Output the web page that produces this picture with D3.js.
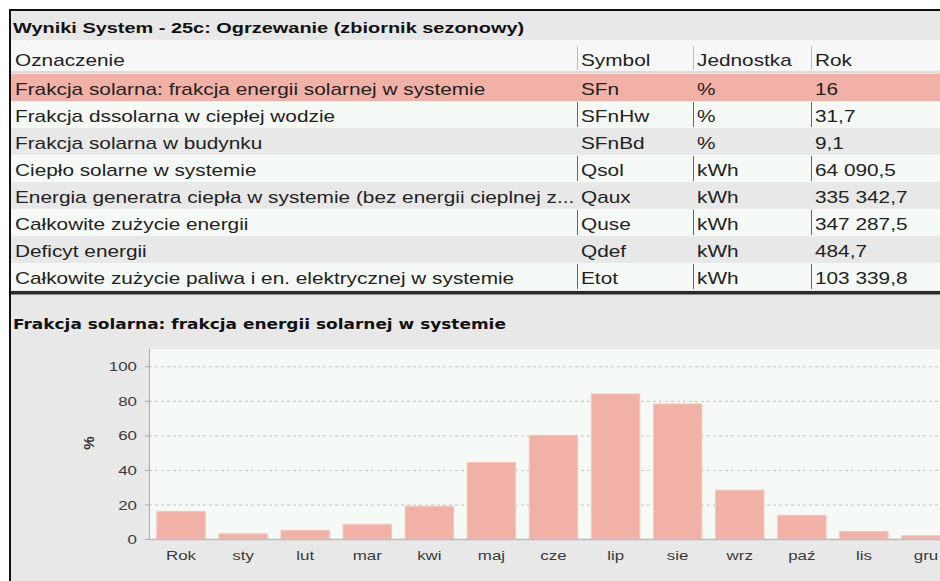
<!DOCTYPE html>
<html>
<head>
<meta charset="utf-8">
<script src="https://cdn.jsdelivr.net/npm/d3@7"></script>
<style>
body{margin:0;background:#fff;}
svg{display:block;font-family:"Liberation Sans",Arial,sans-serif;}
</style>
</head>
<body>
<div id="chart"></div>
<script>
// dane tabeli
const tableTitle="Wyniki System - 25c: Ogrzewanie (zbiornik sezonowy)";
const columns=["Oznaczenie","Symbol","Jednostka","Rok"];
const rowLabels=[
    "Frakcja solarna: frakcja energii solarnej w systemie",
    "Frakcja dssolarna w ciepłej wodzie",
    "Frakcja solarna w budynku",
    "Ciepło solarne w systemie",
    "Energia generatra ciepła w systemie (bez energii cieplnej z...",
    "Całkowite zużycie energii",
    "Deficyt energii",
    "Całkowite zużycie paliwa i en. elektrycznej w systemie"
];
const rowSymbols=["SFn","SFnHw","SFnBd","Qsol","Qaux","Quse","Qdef","Etot"];
const rowUnits=["%","%","%","kWh","kWh","kWh","kWh","kWh"];
const rowValues=["16","31,7","9,1","64 090,5","335 342,7","347 287,5","484,7","103 339,8"];

// dane wykresu
const chartTitle="Frakcja solarna: frakcja energii solarnej w systemie";
const months=["Rok","sty","lut","mar","kwi","maj","cze","lip","sie","wrz","paź","lis","gru"];
const solarFraction=[16,3,5,8.5,19,44.3,60,84,78.2,28.3,13.7,4.4,1.9];
const yTicks=[0,20,40,60,80,100];
const yLabel="%";

const width=940, height=581;
const SX=1.3; // obraz jest rozciągnięty w poziomie
const barColor="#f2b1a6";

const svg=d3.select("#chart").append("svg").attr("width",width).attr("height",height);

// tekst rozciągnięty w poziomie
function place(sel,x,y,sx){
    return sel.attr("x",0).attr("y",0)
        .attr("transform",`translate(${x},${y}) scale(${sx||SX},1)`);
}

// ramka
svg.append("rect").attr("x",9).attr("y",9).attr("width",width-9).attr("height",height-9).attr("fill","#111");
svg.append("rect").attr("x",11).attr("y",11).attr("width",width-11).attr("height",height-11).attr("fill","#e8e8e8");

// ===== tabela =====
svg.append("text").call(place,13,32.5,1.33)
    .attr("font-size",15).attr("font-weight","bold").attr("fill","#111")
    .text(tableTitle);

// nagłówek
svg.append("rect").attr("x",11).attr("y",40).attr("width",width-11).attr("height",33).attr("fill","#f7f7f7");
svg.append("rect").attr("x",11).attr("y",71).attr("width",width-11).attr("height",2).attr("fill","#dcdcdc");

const colX=d3.scaleOrdinal().domain(columns).range([15,581,697,815]);
const sepCols=columns.slice(1);

svg.selectAll(".hsep").data(sepCols).join("rect")
    .attr("class","hsep")
    .attr("x",d=>colX(d)-4).attr("y",46).attr("width",1).attr("height",24)
    .attr("fill","#b4bed2");

svg.selectAll(".htxt").data(columns).join("text")
    .attr("class","htxt")
    .each(function(d){ place(d3.select(this),colX(d),66); })
    .attr("font-size",16).attr("fill","#222")
    .text(d=>d);

// wiersze
const rowY=d3.scaleBand().domain(d3.range(rowLabels.length)).range([74,290]);
const rows=rowLabels.map((l,i)=>({i,cells:[l,rowSymbols[i],rowUnits[i],rowValues[i]]}));
const rowFill=i=>i===0?barColor:(i%2===1?"#f6faf6":"#e8e8e8");

const rowG=svg.selectAll(".row").data(rows).join("g")
    .attr("class","row")
    .attr("transform",d=>`translate(0,${rowY(d.i)})`);

rowG.append("rect")
    .attr("x",11).attr("y",0).attr("width",width-11).attr("height",rowY.bandwidth())
    .attr("fill",d=>rowFill(d.i));

rowG.filter(d=>d.i%2===1).selectAll(".vsep").data(sepCols).join("rect")
    .attr("class","vsep")
    .attr("x",d=>colX(d)-4).attr("y",1).attr("width",1).attr("height",rowY.bandwidth()-2)
    .attr("fill","#666");

rowG.selectAll(".cell").data(d=>d.cells.map((c,j)=>({c,col:columns[j]}))).join("text")
    .attr("class","cell")
    .each(function(d){ place(d3.select(this),colX(d.col),20.5); })
    .attr("font-size",16).attr("fill","#222")
    .text(d=>d.c);

// separator
svg.append("rect").attr("x",11).attr("y",291).attr("width",width-11).attr("height",3).attr("fill","#2a2a2a");
svg.append("rect").attr("x",11).attr("y",294).attr("width",width-11).attr("height",1).attr("fill","#888");

// ===== wykres =====
svg.append("text").call(place,13,329,1.17)
    .attr("font-family","'DejaVu Sans',sans-serif")
    .attr("font-size",14.5).attr("font-weight","bold").attr("fill","#111")
    .text(chartTitle);

const plot={left:149,top:349,bottom:539,right:width};

const x=d3.scaleBand().domain(months).range([150,957]).paddingInner(0.22).paddingOuter(0.11);
const y=d3.scaleLinear().domain([0,110]).range([plot.bottom,plot.top]);

svg.append("rect")
    .attr("x",plot.left).attr("y",plot.top)
    .attr("width",plot.right-plot.left).attr("height",plot.bottom-plot.top)
    .attr("fill","#f5faf6");

// siatka
svg.selectAll(".grid").data(yTicks.filter(d=>d>0)).join("line")
    .attr("class","grid")
    .attr("x1",plot.left).attr("x2",plot.right)
    .attr("y1",d=>y(d)+0.5).attr("y2",d=>y(d)+0.5)
    .attr("stroke","#c4c4c4").attr("stroke-dasharray","3,3");

// słupki
svg.selectAll(".bar").data(months).join("rect")
    .attr("class","bar")
    .attr("x",d=>x(d)).attr("width",x.bandwidth())
    .attr("y",(d,i)=>y(solarFraction[i]))
    .attr("height",(d,i)=>y(0)-y(solarFraction[i]))
    .attr("fill",barColor)
    .attr("stroke","#f6c6bd").attr("stroke-width",1);

// oś Y
const yAxisG=svg.append("g").attr("transform",`translate(${plot.left},0)`)
    .call(d3.axisLeft(y).tickValues(yTicks).tickSize(4).tickPadding(8));
yAxisG.select(".domain").attr("stroke","#aaa").attr("d",`M0.5,${plot.top}V${plot.bottom}`);
yAxisG.selectAll(".tick line").attr("stroke","#aaa");
yAxisG.selectAll(".tick text")
    .attr("font-family","'Liberation Sans',Arial,sans-serif").attr("font-size",13).attr("fill","#3a3a3a")
    .attr("x",0).attr("dy","0.35em")
    .attr("transform",`translate(-12,0) scale(${SX},1)`);

// oś X
const xAxisG=svg.append("g").attr("transform",`translate(0,${plot.bottom})`)
    .call(d3.axisBottom(x).tickSize(0).tickPadding(12));
xAxisG.select(".domain").attr("stroke","#bbb").attr("stroke-width",1.5).attr("d",`M${plot.left},0.5H${plot.right}`);
xAxisG.selectAll(".tick text")
    .attr("font-family","'Liberation Sans',Arial,sans-serif").attr("font-size",13).attr("fill","#3a3a3a")
    .attr("y",0).attr("dy","0.71em")
    .attr("transform",`translate(0,12) scale(${SX},1)`);

// etykieta osi Y
svg.append("text")
    .attr("transform",`translate(94,443) rotate(-90)`)
    .attr("text-anchor","middle")
    .attr("font-size",15).attr("font-weight","bold").attr("fill","#333")
    .text(yLabel);
</script>
</body>
</html>
